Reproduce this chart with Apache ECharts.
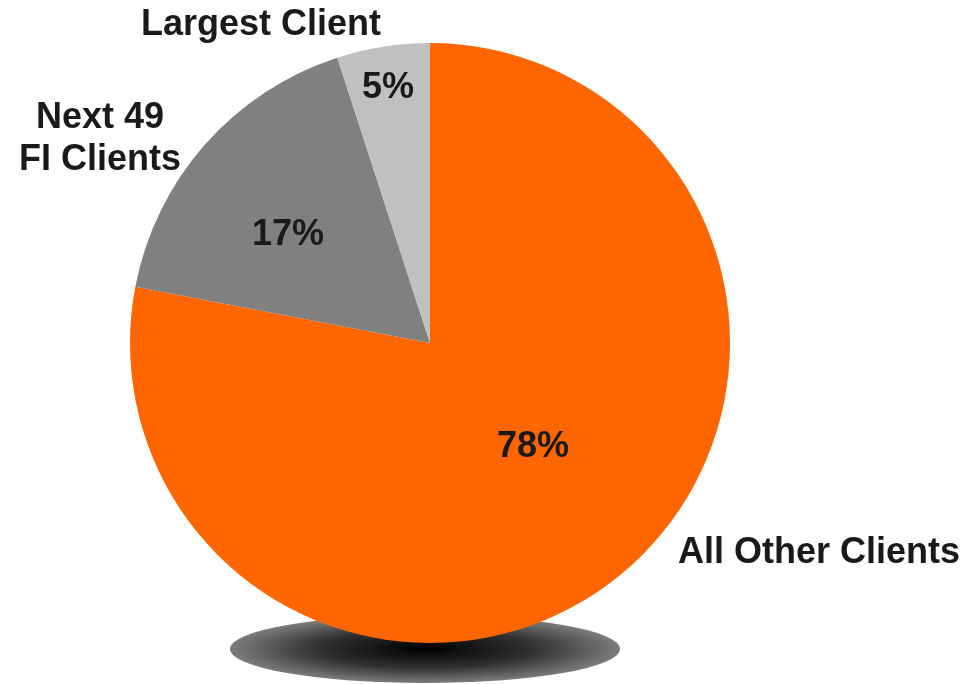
<!DOCTYPE html>
<html>
<head>
<meta charset="utf-8">
<script src="https://cdn.jsdelivr.net/npm/echarts@6/dist/echarts.min.js"></script>
<style>
  html, body { margin: 0; padding: 0; background: #fff; }
  #chart { width: 967px; height: 684px; }
</style>
</head>
<body>
<div id="chart"></div>
<script>
const categories = ['All Other Clients', 'Next 49\nFI Clients', 'Largest Client'];
const shares = [78, 17, 5];
const sliceColors = ['#FF6600', '#808080', '#C0C0C0'];

// where the texts sit on the page
const pctPos = [[533, 447], [288, 235], [388, 88]];
const namePos = [[819, 553], [100, 139], [261, 25]];

const FONT = '"Liberation Sans", Arial, sans-serif';
const TEXT_COLOR = '#1a1a1a';

const chart = echarts.init(document.getElementById('chart'));

const pieData = categories.map((name, i) => ({
  name: name,
  value: shares[i],
  itemStyle: { color: sliceColors[i] }
}));

function placeAt(list) {
  return params => ({
    x: list[params.dataIndex][0],
    y: list[params.dataIndex][1],
    align: 'center',
    verticalAlign: 'middle'
  });
}

const basePie = {
  type: 'pie',
  center: [430, 343],
  radius: 300,
  startAngle: 90,
  clockwise: true,
  silent: true,
  emphasis: { disabled: true },
  labelLine: { show: false },
  data: pieData
};

chart.setOption({
  animation: false,
  backgroundColor: '#fff',
  graphic: [{
    type: 'circle',
    z: -10,
    x: 425,
    y: 649,
    scaleY: 34 / 195,
    shape: { cx: 0, cy: 0, r: 195 },
    style: {
      fill: new echarts.graphic.RadialGradient(0.5, 0.5, 0.5, [
        { offset: 0, color: '#000000' },
        { offset: 0.55, color: '#303030' },
        { offset: 1, color: '#7c7c7c' }
      ])
    },
    silent: true
  }],
  series: [
    Object.assign({}, basePie, {
      z: 2,
      label: {
        show: true,
        position: 'inside',
        formatter: p => p.value + '%',
        fontFamily: FONT,
        fontWeight: 'bold',
        fontSize: 36,
        color: TEXT_COLOR
      },
      labelLayout: placeAt(pctPos)
    }),
    Object.assign({}, basePie, {
      z: 3,
      data: pieData.map(d => ({
        name: d.name,
        value: d.value,
        itemStyle: { color: 'rgba(0,0,0,0)', borderWidth: 0 }
      })),
      label: {
        show: true,
        position: 'outside',
        formatter: p => p.name,
        overflow: 'none',
        width: 400,
        fontFamily: FONT,
        fontWeight: 'bold',
        fontSize: 36,
        lineHeight: 42,
        align: 'center',
        color: TEXT_COLOR
      },
      labelLayout: placeAt(namePos)
    })
  ]
});
</script>
</body>
</html>
